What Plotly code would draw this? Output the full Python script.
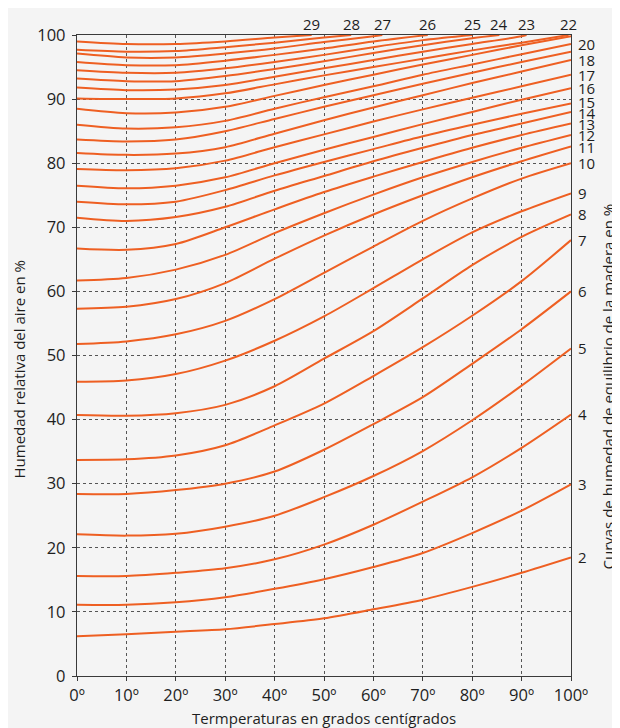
import plotly.graph_objects as go

# Temperature grid (degrees C)
temps = [0, 10, 20, 30, 40, 50, 60, 70, 80, 90, 100]

# Relative humidity (%) along each equilibrium-moisture-content curve (EMC %)
rh_02 = [6.2, 6.5, 6.9, 7.3, 8.1, 9.0, 10.4, 11.9, 13.9, 16.1, 18.5]
rh_03 = [11.1, 11.1, 11.5, 12.3, 13.6, 15.1, 17.0, 19.2, 22.3, 25.8, 29.9]
rh_04 = [15.6, 15.6, 16.1, 16.8, 18.2, 20.5, 23.6, 27.2, 31.0, 35.6, 40.8]
rh_05 = [22.1, 21.9, 22.2, 23.3, 25.0, 27.9, 31.2, 35.1, 39.9, 45.3, 51.1]
rh_06 = [28.4, 28.4, 29.0, 30.0, 31.9, 35.3, 39.3, 43.5, 48.7, 54.1, 60.0]
rh_07 = [33.7, 33.8, 34.4, 36.0, 39.1, 42.5, 46.8, 51.3, 56.2, 61.6, 68.0]
rh_08 = [40.7, 40.6, 41.0, 42.3, 45.2, 49.5, 53.8, 58.9, 64.1, 68.5, 72.0]
rh_09 = [45.9, 46.1, 47.1, 49.2, 52.3, 56.1, 60.5, 65.0, 69.2, 72.5, 75.3]
rh_10 = [51.8, 52.2, 53.3, 55.4, 58.8, 62.9, 67.0, 71.0, 74.5, 77.6, 80.0]
rh_11 = [57.3, 57.6, 58.8, 61.3, 65.1, 68.7, 72.0, 75.0, 77.8, 80.3, 82.6]
rh_12 = [61.7, 62.1, 63.4, 65.7, 69.1, 72.2, 75.1, 77.8, 80.2, 82.4, 84.4]
rh_13 = [66.7, 66.5, 67.4, 70.0, 72.8, 75.5, 77.9, 80.2, 82.4, 84.4, 86.2]
rh_14 = [71.5, 71.0, 71.6, 73.2, 75.7, 78.0, 80.3, 82.4, 84.4, 86.2, 88.0]
rh_15 = [74.0, 73.6, 74.0, 75.8, 78.1, 80.2, 82.2, 84.2, 86.0, 87.7, 89.3]
rh_16 = [76.5, 76.1, 76.5, 77.8, 80.0, 82.1, 84.1, 86.1, 88.0, 89.9, 91.7]
rh_17 = [79.1, 78.9, 79.2, 80.4, 82.5, 84.5, 86.5, 88.4, 90.2, 92.0, 93.8]
rh_18 = [81.6, 81.3, 81.5, 82.5, 84.6, 86.7, 88.7, 90.6, 92.5, 94.3, 96.1]
rh_19 = [83.7, 83.4, 83.7, 85.0, 86.9, 88.8, 90.6, 92.4, 94.1, 95.8, 97.4]
rh_20 = [86.0, 85.4, 85.6, 86.6, 88.5, 90.3, 92.0, 93.8, 95.4, 97.0, 98.6]
rh_21 = [88.5, 87.8, 87.9, 88.8, 90.5, 92.2, 93.8, 95.4, 96.9, 98.4, 99.8]
rh_22 = [90.1, 90.0, 90.1, 90.9, 92.3, 93.7, 95.0, 96.3, 97.6, 98.8]
rh_23 = [91.8, 91.4, 91.5, 92.2, 93.5, 94.8, 96.1, 97.4, 98.6, 99.8]
rh_24 = [93.2, 92.8, 92.8, 93.6, 94.7, 95.9, 97.2, 98.4, 99.5]
rh_25 = [94.5, 94.1, 94.1, 94.8, 95.8, 96.9, 98.1, 99.2]
rh_26 = [95.8, 95.3, 95.3, 96.0, 96.9, 97.9, 99.0]
rh_27 = [97.1, 96.5, 96.5, 97.1, 97.9, 98.9, 99.8]
rh_28 = [97.7, 97.4, 97.5, 98.1, 98.8, 99.6]
rh_29 = [99.0, 98.6, 98.6, 99.0, 99.6]

emc_values = list(range(2, 30))
curves = [rh_02, rh_03, rh_04, rh_05, rh_06, rh_07, rh_08, rh_09, rh_10,
          rh_11, rh_12, rh_13, rh_14, rh_15, rh_16, rh_17, rh_18, rh_19,
          rh_20, rh_21, rh_22, rh_23, rh_24, rh_25, rh_26, rh_27, rh_28, rh_29]

# Temperature where curves 22..29 reach 100 % (top edge)
exit_emc = [22, 23, 24, 25, 26, 27, 28, 29]
exit_temp = [99.5, 91, 85.5, 80, 71, 61.8, 55.5, 47.5]

# Curves labelled on the right edge
right_labels = [2, 3, 4, 5, 6, 7, 8, 9, 10, 11, 12, 13, 14, 15, 16, 17, 18, 20]

x_ticks = temps
x_ticktext = [f"{t}º" for t in temps]
y_ticks = [0, 10, 20, 30, 40, 50, 60, 70, 80, 90, 100]

LINE = "#ee5f22"
TXT = "#1e1e1e"
FONT = "Open Sans"

fig = go.Figure()
annotations = []
for emc, rh in zip(emc_values, curves):
    xs = temps[:len(rh)]
    ys = list(rh)
    if emc in exit_emc:
        t_exit = exit_temp[exit_emc.index(emc)]
        xs = xs + [t_exit]
        ys = ys + [100]
        annotations.append(dict(x=t_exit, y=100, xref="x", yref="y", text=str(emc),
                                showarrow=False, yshift=11, yanchor="middle",
                                xanchor="center", font=dict(size=15, color=TXT, family=FONT)))
    fig.add_trace(go.Scatter(x=xs, y=ys, mode="lines",
                             line=dict(color=LINE, width=2, shape="spline", smoothing=0.8),
                             hoverinfo="skip"))

# right-edge labels placed at curve end values, relaxed so they do not pile up
lab = [(e, curves[emc_values.index(e)][-1]) for e in right_labels]
lab_y = [v for _, v in lab]
min_gap = 1.65
for _ in range(50):
    order = sorted(range(len(lab_y)), key=lambda i: lab_y[i])
    for a, b in zip(order[:-1], order[1:]):
        gap = lab_y[b] - lab_y[a]
        if gap < min_gap:
            d = (min_gap - gap) / 2
            lab_y[a] -= d
            lab_y[b] += d
for (e, _), yv in zip(lab, lab_y):
    annotations.append(dict(x=100, y=yv, xref="x", yref="y", text=str(e),
                            showarrow=False, xshift=5, xanchor="left", yanchor="middle",
                            font=dict(size=15, color=TXT, family=FONT)))

annotations += [
    dict(x=0.5, y=0, xref="paper", yref="paper", text="Termperaturas en grados centígrados",
         showarrow=False, yshift=-42, yanchor="middle", xanchor="center",
         font=dict(size=15, color=TXT, family=FONT)),
    dict(x=0, y=0.5, xref="paper", yref="paper", text="Humedad relativa del aire en %",
         showarrow=False, xshift=-59, yshift=-14, textangle=-90, xanchor="center", yanchor="middle",
         font=dict(size=15, color=TXT, family=FONT)),
    dict(x=1, y=0.5, xref="paper", yref="paper",
         text="Curvas de humedad de equilibrio de la madera en %",
         showarrow=False, xshift=36, yshift=-31, textangle=-90, xanchor="center", yanchor="middle",
         font=dict(size=15, color=TXT, family=FONT)),
]

axis_common = dict(range=[0, 100], showgrid=True, gridcolor="#555555", griddash="dot",
                   gridwidth=1, showline=True, linecolor="#3a3a3a", linewidth=1.3,
                   mirror=True, ticks="outside", ticklen=4, tickcolor="#3a3a3a",
                   zeroline=False, fixedrange=True,
                   tickfont=dict(size=16.5, color=TXT, family=FONT))

fig.update_xaxes(**axis_common, tickvals=x_ticks, ticktext=x_ticktext)
fig.update_yaxes(**axis_common, tickvals=y_ticks, ticklabelstandoff=3)

# page body has an 8px default margin: size the figure so the plot area lands
# at the same window pixels as the reference
fig.update_layout(width=612, height=720,
                  margin=dict(l=69, r=49, t=27, b=52),
                  paper_bgcolor="#f4f4f4", plot_bgcolor="#f4f4f4",
                  showlegend=False, annotations=annotations,
                  font=dict(family=FONT, color=TXT))

fig.write_html("out.html")
